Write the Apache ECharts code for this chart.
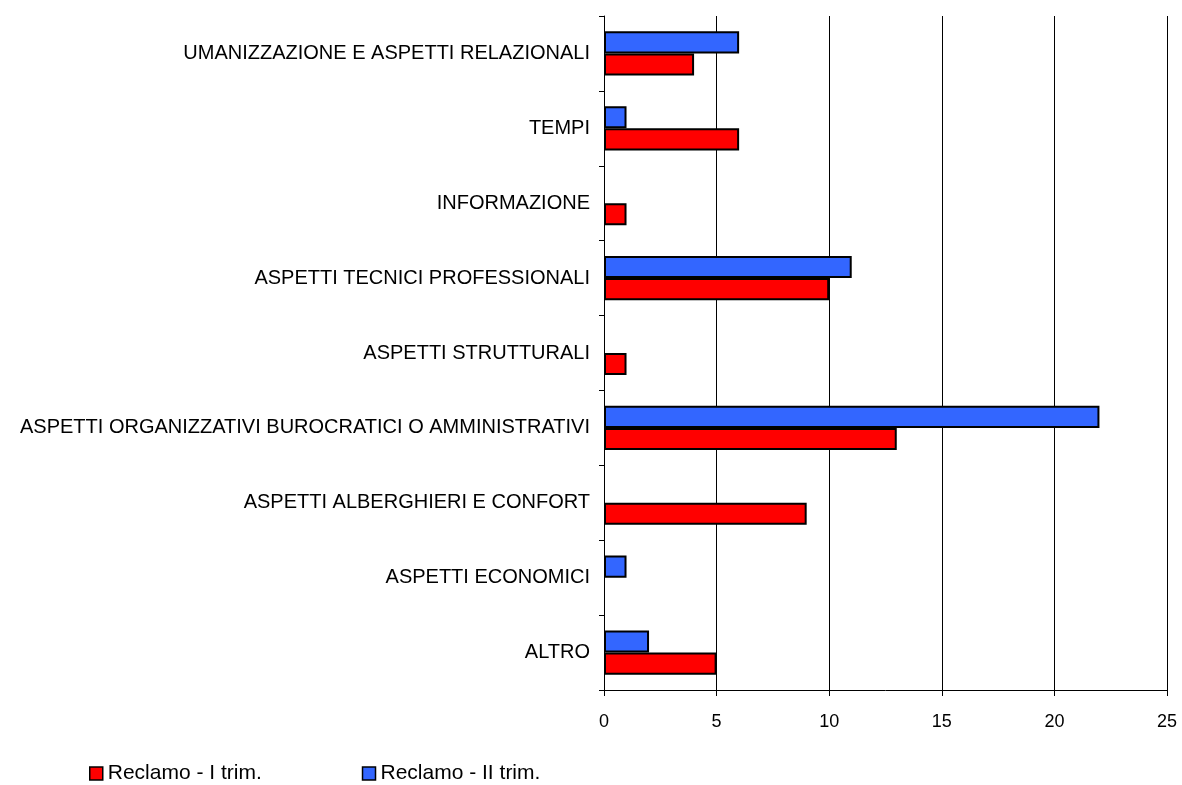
<!DOCTYPE html>
<html><head><meta charset="utf-8">
<script src="https://cdn.jsdelivr.net/npm/echarts@6/dist/echarts.min.js"></script>
<style>html,body{margin:0;padding:0;background:#fff}#c{width:1182px;height:785px}</style>
</head><body><div id="c"></div>
<script>
const categories = ["ALTRO","ASPETTI ECONOMICI","ASPETTI ALBERGHIERI E CONFORT","ASPETTI ORGANIZZATIVI BUROCRATICI O AMMINISTRATIVI","ASPETTI STRUTTURALI","ASPETTI TECNICI PROFESSIONALI","INFORMAZIONE","TEMPI","UMANIZZAZIONE E ASPETTI RELAZIONALI"];
const trim1 = [5,0,9,13,1,10,1,6,4];
const trim2 = [2,1,0,22,0,11,0,1,6];
const seriesNames = ["Reclamo - I trim.","Reclamo - II trim."];
const xTicks = [0,5,10,15,20,25];
const toData = arr => arr.map(v => v === 0 ? {value:v, itemStyle:{borderWidth:0}} : v);
const chart = echarts.init(document.getElementById('c'));
chart.setOption({
  animation:false,
  backgroundColor:'#fff',
  grid:{left:604,right:15,top:16,bottom:95,containLabel:false},
  legend:{left:84,top:758,itemWidth:13,itemHeight:13,itemGap:100,icon:'rect',
    itemStyle:{borderColor:'#000',borderWidth:1.5},
    textStyle:{fontFamily:'Liberation Sans',fontSize:21,color:'#000'},
    data:seriesNames},
  xAxis:{type:'value',min:xTicks[0],max:xTicks[xTicks.length-1],interval:xTicks[1]-xTicks[0],
    axisLine:{show:true,lineStyle:{color:'#000'}},
    axisTick:{show:true,length:6,lineStyle:{color:'#000'}},
    axisLabel:{fontFamily:'Liberation Sans',fontSize:18,color:'#000',margin:23},
    splitLine:{show:true,lineStyle:{color:'#000',width:1}}},
  yAxis:{type:'category',data:categories,
    axisLine:{show:true,lineStyle:{color:'#000'}},
    axisTick:{show:true,length:5,lineStyle:{color:'#000'}},
    axisLabel:{fontFamily:'Liberation Sans',fontSize:20,color:'#000',margin:14}},
  series:[
    {name:seriesNames[1],type:'bar',data:toData(trim2),barGap:'0%',barCategoryGap:'41%',
     itemStyle:{color:'#3366FF',borderColor:'#000',borderWidth:2}},
    {name:seriesNames[0],type:'bar',data:toData(trim1),barGap:'0%',barCategoryGap:'41%',
     itemStyle:{color:'#FF0000',borderColor:'#000',borderWidth:2}}
  ]
});
</script></body></html>
